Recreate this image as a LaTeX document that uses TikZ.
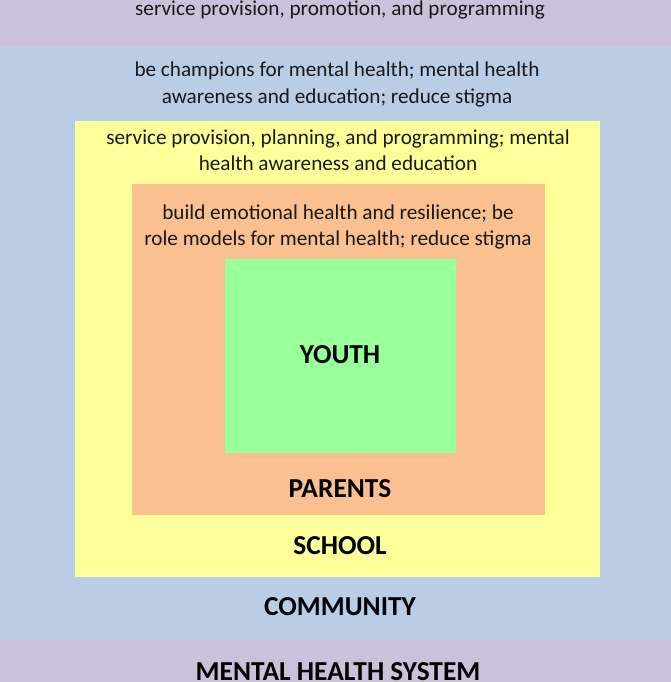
\documentclass[tikz,border=0pt]{standalone}
\usepackage{fontspec}
\setmainfont{Carlito}
\definecolor{mhpurple}{HTML}{CCC1DA}
\definecolor{mhblue}{HTML}{B9CDE5}
\definecolor{mhyellow}{HTML}{FFFF99}
\definecolor{mhorange}{HTML}{FAC090}
\definecolor{mhgreen}{HTML}{99FF99}
\tikzset{
  desc/.style={font=\fontsize{21.2}{26}\selectfont, align=center, inner sep=0pt, text=black!90, anchor=base},
  lbl/.style={font=\fontsize{27.4}{30}\selectfont\bfseries, inner sep=0pt, text=black, anchor=base},
}
\begin{document}
\begin{tikzpicture}[x=1pt,y=-1pt]
\useasboundingbox (0,0) rectangle (671,682);
\fill[mhblue] (0,0) rectangle (671,682);
\fill[mhpurple] (0,0) rectangle (671,46);
\fill[mhpurple] (0,640) rectangle (671,682);
\fill[mhyellow] (75,121) rectangle (600,577);
\fill[mhorange] (132,184) rectangle (545,515);
\fill[mhgreen] (225,259) rectangle (456,453);
\node[desc] (mhsdesc) at (340,16) {service provision, promotion, and programming};
\node[desc] (comdesc) at (337,103) {be champions for mental health; mental health\\awareness and education; reduce stigma};
\node[desc] (schdesc) at (338,170) {service provision, planning, and programming; mental\\health awareness and education};
\node[desc] (pardesc) at (338,245) {build emotional health and resilience; be\\role models for mental health; reduce stigma};
\node[lbl] (youth) at (340,363) {YOUTH};
\node[lbl] (parents) at (340,497) {PARENTS};
\node[lbl] (school) at (340,554) {SCHOOL};
\node[lbl] (community) at (340,615) {COMMUNITY};
\node[lbl] (mhs) at (338,680) {MENTAL HEALTH SYSTEM};
\end{tikzpicture}
\end{document}
